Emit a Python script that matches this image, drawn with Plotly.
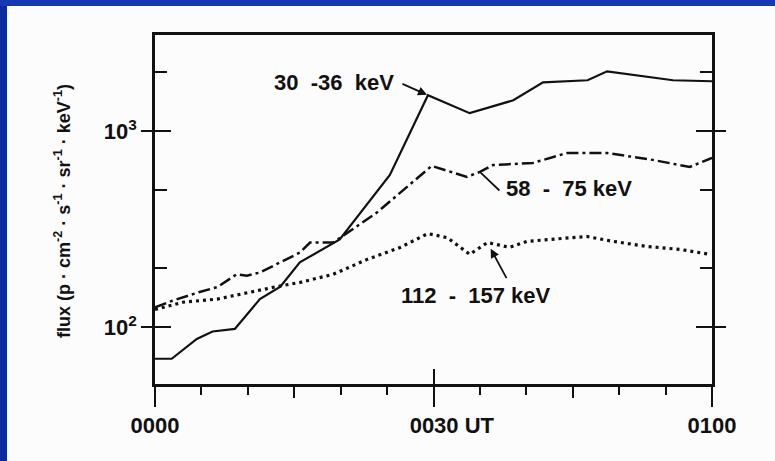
import numpy as np
import plotly.graph_objects as go

# Proton flux in three energy channels, 0000-0100 UT (time in minutes after 0000 UT)
t_30_36 = [0.0, 1.8, 4.5, 6.2, 8.6, 11.3, 13.5, 15.6, 19.9, 25.3, 29.4, 33.9,
           38.6, 41.8, 46.6, 48.7, 55.8, 60.0]
flux_30_36 = [69, 69, 87, 95, 98, 139, 161, 214, 280, 598, 1524, 1234,
              1436, 1773, 1816, 2018, 1816, 1795]

t_58_75 = [0.0, 1.8, 4.8, 6.7, 8.8, 9.9, 11.3, 15.6, 16.7, 19.2, 23.9, 27.1,
           29.8, 33.6, 35.0, 36.4, 40.7, 44.4, 48.7, 53.6, 57.6, 60.0]
flux_58_75 = [126, 136, 151, 160, 186, 183, 190, 240, 270, 270, 384, 520,
              664, 584, 619, 671, 688, 773, 773, 713, 656, 730]

t_112_157 = [0.0, 3.0, 6.7, 10.2, 13.1, 15.6, 19.2, 22.8, 26.4, 29.4, 31.5,
             33.9, 35.8, 38.2, 40.1, 46.5, 49.3, 53.0, 56.6, 59.8]
flux_112_157 = [123, 134, 139, 151, 161, 169, 186, 221, 255, 300, 286,
                235, 270, 255, 274, 290, 274, 258, 249, 235]

NB = "\u00a0"
channel_names = ["30" + NB * 2 + "-36" + NB * 2 + "keV",
                 "58" + NB * 2 + "-" + NB * 2 + "75" + NB + "keV",
                 "112" + NB * 2 + "-" + NB * 2 + "157" + NB + "keV"]

x_tick_vals = [0, 30, 60]
x_tick_text = ["0000", NB * 6 + "0030" + NB + "UT", "0100"]
x_long_ticks = [15, 45]
y_tick_vals = [100, 1000]
y_tick_text = ["10<sup>2</sup>", "10<sup>3</sup>"]
y_minor_vals = [50, 200, 500, 2000]

INK = "#111111"
PAPER = "#fcfcfc"
FONT = "Liberation Sans, Arial, sans-serif"

W, H = 775, 461
L, R, T, B = 155, 63, 35, 77
x_range = [0, 60]
y_range = [1.71, 3.49]

fig = go.Figure()
fig.add_trace(go.Scatter(x=t_30_36, y=flux_30_36, mode="lines",
                         line=dict(color=INK, width=2.2), showlegend=False,
                         hoverinfo="skip"))
fig.add_trace(go.Scatter(x=t_58_75, y=flux_58_75, mode="lines",
                         line=dict(color=INK, width=2.5, dash="12px,4px,3px,4px"),
                         showlegend=False, hoverinfo="skip"))
fig.add_trace(go.Scatter(x=t_112_157, y=flux_112_157, mode="lines",
                         line=dict(color=INK, width=3.2, dash="3px,4px"),
                         showlegend=False, hoverinfo="skip"))

# transparent copies bind the extra tick-only axes so they get drawn
for xa, ya in [("x", "y2"), ("x2", "y"), ("x3", "y")]:
    fig.add_trace(go.Scatter(x=t_30_36, y=flux_30_36, mode="lines", xaxis=xa, yaxis=ya,
                             line=dict(width=0, color="rgba(0,0,0,0)"), opacity=0,
                             showlegend=False, hoverinfo="skip"))

axis_font = dict(family=FONT, size=22, color=INK, weight="bold")

fig.update_layout(
    width=W, height=H,
    margin=dict(l=L, r=R, t=T, b=B, pad=0),
    paper_bgcolor=PAPER, plot_bgcolor=PAPER,
    font=axis_font,
    xaxis=dict(range=x_range, showgrid=False, zeroline=False,
               showline=True, linecolor=INK, linewidth=2.5, mirror=True,
               tickmode="array", tickvals=x_tick_vals, ticktext=x_tick_text,
               ticks="outside", ticklen=20, tickwidth=2, tickcolor=INK,
               tickfont=axis_font,
               minor=dict(dtick=5, tick0=0, ticks="outside", ticklen=8,
                          tickwidth=1.8, tickcolor=INK, showgrid=False)),
    xaxis2=dict(range=x_range, overlaying="x", anchor="y", side="bottom",
                showgrid=False, zeroline=False, showline=False,
                tickmode="array", tickvals=x_long_ticks, ticks="outside",
                ticklen=13, tickwidth=1.8, tickcolor=INK, showticklabels=False),
    xaxis3=dict(range=x_range, overlaying="x", anchor="y", side="bottom",
                showgrid=False, zeroline=False, showline=False,
                tickmode="array", tickvals=[30], ticks="inside",
                ticklen=15, tickwidth=2, tickcolor=INK, showticklabels=False),
    yaxis=dict(type="log", range=y_range, showgrid=False, zeroline=False,
               showline=True, linecolor=INK, linewidth=2.5, mirror="ticks",
               tickmode="array", tickvals=y_tick_vals, ticks="inside",
               ticklen=16, tickwidth=2, tickcolor=INK, showticklabels=False,
               minor=dict(tickvals=y_minor_vals, ticks="inside", ticklen=12,
                          tickwidth=2, tickcolor=INK, showgrid=False)),
    yaxis2=dict(type="log", range=y_range, overlaying="y", anchor="x",
                side="left", showgrid=False, zeroline=False,
                showline=True, linecolor=INK, linewidth=2.5, mirror="ticks",
                tickmode="array", tickvals=y_tick_vals, ticktext=y_tick_text,
                ticks="outside", ticklen=11, tickwidth=2, tickcolor=INK,
                tickfont=axis_font),
)

# helpers converting pixel offsets to paper coordinates
pw, ph = W - L - R, H - T - B


def px_x(px):
    return (px - L) / pw


def px_y(py):
    return (H - B - py) / ph


# frame strips along the left and top edges
fig.add_shape(type="rect", xref="paper", yref="paper", layer="above",
              x0=px_x(0), x1=px_x(7), y0=px_y(H), y1=px_y(0),
              fillcolor="#0d2a9e", line_width=0)
fig.add_shape(type="rect", xref="paper", yref="paper", layer="above",
              x0=px_x(0), x1=px_x(W), y0=px_y(6), y1=px_y(0),
              fillcolor="#1738b4", line_width=0)

# vertical axis title
dot = NB + "\u00b7" + NB
fig.add_annotation(xref="paper", yref="paper", x=px_x(62), y=px_y(211),
                   textangle=-90, showarrow=False, xanchor="center", yanchor="middle",
                   text="flux" + NB + "(p" + dot + "cm<sup>-2</sup>" + dot + "s<sup>-1</sup>"
                        + dot + "sr<sup>-1</sup>" + dot + "keV<sup>-1</sup>)",
                   font=dict(family=FONT, size=18, color=INK, weight="bold"))

# channel labels
label_font = dict(family=FONT, size=22, color=INK, weight="bold")
for name, (lx, ly) in zip(channel_names, [(334, 83), (569, 188), (476, 295)]):
    fig.add_annotation(xref="paper", yref="paper", x=px_x(lx), y=px_y(ly),
                       xanchor="center", yanchor="middle",
                       text=name, showarrow=False, font=label_font)

# pointers from labels to their curves
i_peak = int(np.argmax(flux_30_36[:12]))
fig.add_annotation(x=t_30_36[i_peak], y=np.log10(flux_30_36[i_peak]), xref="x", yref="y",
                   text="", showarrow=True, arrowhead=2, arrowsize=1, arrowwidth=1.8,
                   arrowcolor=INK, ax=-27, ay=-12, standoff=1)
i_mid = t_58_75.index(35.0)
fig.add_annotation(x=t_58_75[i_mid], y=np.log10(flux_58_75[i_mid]), xref="x", yref="y",
                   text="", showarrow=True, arrowhead=0, arrowwidth=1.8,
                   arrowcolor=INK, ax=21, ay=20, standoff=1)
i_low = t_112_157.index(35.8)
fig.add_annotation(x=t_112_157[i_low], y=np.log10(flux_112_157[i_low]), xref="x", yref="y",
                   text="", showarrow=True, arrowhead=2, arrowsize=1, arrowwidth=1.8,
                   arrowcolor=INK, ax=20, ay=37, standoff=7)

fig.write_html("out.html")
